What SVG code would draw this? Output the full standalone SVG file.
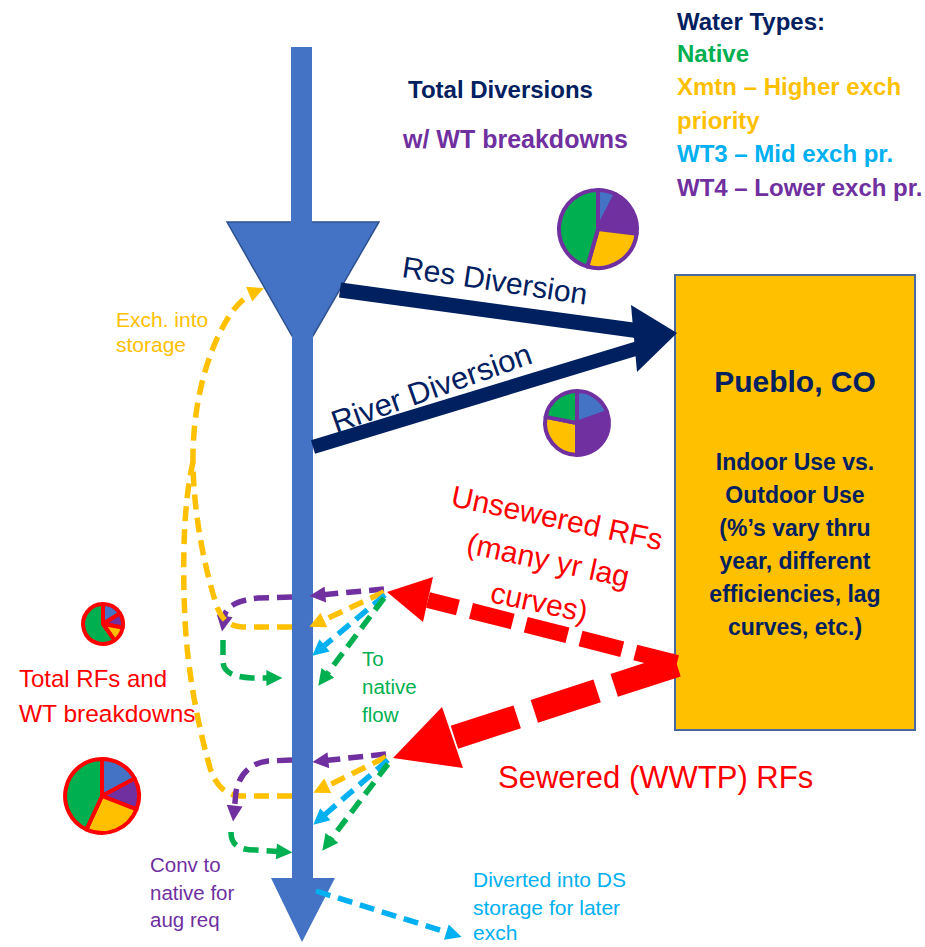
<svg xmlns="http://www.w3.org/2000/svg" width="925" height="947" viewBox="0 0 925 947">
<style>
text{font-family:"Liberation Sans",Arial,sans-serif}
.b{font-weight:bold}
.navy{fill:#002060}.grn{fill:#00B050}.yel{fill:#FFC000}.cyn{fill:#00B0F0}.pur{fill:#7030A0}.red{fill:#FF0000}
.river{fill:#4472C4}
.dash{fill:none;stroke-width:5.5;stroke-dasharray:15 8}
.sp{stroke:#7030A0}.sy{stroke:#FFC000}.sc{stroke:#00B0F0}.sg{stroke:#00B050}
.pieP{stroke:#7030A0;stroke-width:4;stroke-linejoin:round}
.pieR{stroke:#FF0000;stroke-width:4;stroke-linejoin:round}
.fB{fill:#4472C4}.fP{fill:#7030A0}.fY{fill:#FFC000}.fG{fill:#00B050}
</style>
<defs>
<marker id="mP" viewBox="0 0 10 10" refX="6" refY="5" markerUnits="userSpaceOnUse" markerWidth="18" markerHeight="16" orient="auto"><path d="M0,0 L10,5 L0,10 z" fill="#7030A0"/></marker>
<marker id="mY" viewBox="0 0 10 10" refX="6" refY="5" markerUnits="userSpaceOnUse" markerWidth="18" markerHeight="16" orient="auto"><path d="M0,0 L10,5 L0,10 z" fill="#FFC000"/></marker>
<marker id="mC" viewBox="0 0 10 10" refX="6" refY="5" markerUnits="userSpaceOnUse" markerWidth="18" markerHeight="16" orient="auto"><path d="M0,0 L10,5 L0,10 z" fill="#00B0F0"/></marker>
<marker id="mG" viewBox="0 0 10 10" refX="6" refY="5" markerUnits="userSpaceOnUse" markerWidth="18" markerHeight="16" orient="auto"><path d="M0,0 L10,5 L0,10 z" fill="#00B050"/></marker>
</defs>

<g id="river">
<polygon points="227,222 379,222 313,336 292,336" class="river" stroke="#2F528F" stroke-width="1.5"/>
<rect x="291" y="47" width="21" height="177" class="river"/>
<rect x="292" y="334" width="21" height="546" class="river"/>
<polygon points="271,878 335,878 302,942" class="river"/>
</g>

<g id="legend">
<text x="677" y="30" class="b navy" font-size="24">Water Types:</text>
<text x="677" y="62" class="b grn" font-size="24">Native</text>
<text x="677" y="95" class="b yel" font-size="24">Xmtn – Higher exch</text>
<text x="677" y="129" class="b yel" font-size="24">priority</text>
<text x="677" y="162" class="b cyn" font-size="24">WT3 – Mid exch pr.</text>
<text x="677" y="196" class="b pur" font-size="24">WT4 – Lower exch pr.</text>
</g>

<g id="total-diversions">
<text x="408" y="98" class="b navy" font-size="24">Total Diversions</text>
<text x="403" y="148" class="b pur" font-size="25">w/ WT breakdowns</text>
</g>

<g id="pueblo">
<rect x="675" y="275" width="240" height="455" fill="#FFC000" stroke="#4A6A9E" stroke-width="2"/>
<text x="795" y="392" class="b navy" font-size="30" text-anchor="middle">Pueblo, CO</text>
<g class="b navy" font-size="23" text-anchor="middle">
<text x="795" y="470">Indoor Use vs.</text>
<text x="795" y="503">Outdoor Use</text>
<text x="795" y="536">(%’s vary thru</text>
<text x="795" y="569">year, different</text>
<text x="795" y="602">efficiencies, lag</text>
<text x="795" y="635">curves, etc.)</text>
</g>
</g>

<g id="pie-res">
<path class="pieP fB" d="M598,229 L598,190 A39,39 0 0 1 615.7,194.3 Z"/>
<path class="pieP fP" d="M598,229 L615.7,194.3 A39,39 0 0 1 636.7,233.8 Z"/>
<path class="pieP fY" d="M598,229 L636.7,233.8 A39,39 0 0 1 587.3,266.5 Z"/>
<path class="pieP fG" d="M598,229 L587.3,266.5 A39,39 0 0 1 598,190 Z"/>
</g>
<g id="pie-river">
<path class="pieP fB" d="M577,423 L577,391 A32,32 0 0 1 607.1,412.1 Z"/>
<path class="pieP fP" d="M577,423 L607.1,412.1 A32,32 0 0 1 577,455 Z"/>
<path class="pieP fY" d="M577,423 L577,455 A32,32 0 0 1 545.6,416.9 Z"/>
<path class="pieP fG" d="M577,423 L545.6,416.9 A32,32 0 0 1 577,391 Z"/>
</g>
<g id="pie-rf-small">
<path class="pieR fB" stroke-width="3" d="M103,624 L103,604 A20,20 0 0 1 120,613.4 Z"/>
<path class="pieR fP" stroke-width="3" d="M103,624 L120,613.4 A20,20 0 0 1 122.7,627.5 Z"/>
<path class="pieR fY" stroke-width="3" d="M103,624 L122.7,627.5 A20,20 0 0 1 114.5,640.4 Z"/>
<path class="pieR fG" stroke-width="3" d="M103,624 L114.5,640.4 A20,20 0 1 1 103,604 Z"/>
</g>
<g id="pie-rf-large">
<path class="pieR fB" d="M102,796 L102,759 A37,37 0 0 1 134.7,778.6 Z"/>
<path class="pieR fP" d="M102,796 L134.7,778.6 A37,37 0 0 1 136.5,809.3 Z"/>
<path class="pieR fY" d="M102,796 L136.5,809.3 A37,37 0 0 1 86.4,829.5 Z"/>
<path class="pieR fG" d="M102,796 L86.4,829.5 A37,37 0 0 1 102,759 Z"/>
</g>

<g id="labels">
<text class="navy" font-size="30" transform="translate(401,277) rotate(8.5)">Res Diversion</text>
<text class="navy" font-size="31" transform="translate(336,433) rotate(-19.5)">River Diversion</text>
<g class="red" font-size="30" text-anchor="middle" transform="translate(555,528) rotate(12)">
<text x="0" y="0">Unsewered RFs</text>
<text x="0" y="43">(many yr lag</text>
<text x="0" y="86">curves)</text>
</g>
<text x="498" y="788" class="red" font-size="31">Sewered (WWTP) RFs</text>
<text x="19" y="687" class="red" font-size="24">Total RFs and</text>
<text x="19" y="722" class="red" font-size="24.5">WT breakdowns</text>
<text x="116" y="327" class="yel" font-size="21">Exch. into</text>
<text x="116" y="352" class="yel" font-size="21">storage</text>
<text x="362" y="666" class="grn" font-size="20.5">To</text>
<text x="362" y="694" class="grn" font-size="20.5">native</text>
<text x="362" y="722" class="grn" font-size="20.5">flow</text>
<text x="150" y="872" class="pur" font-size="20.5">Conv to</text>
<text x="150" y="900" class="pur" font-size="20.5">native for</text>
<text x="150" y="927" class="pur" font-size="20.5">aug req</text>
<text x="473" y="887" class="cyn" font-size="21">Diverted into DS</text>
<text x="473" y="915" class="cyn" font-size="21">storage for later</text>
<text x="473" y="940" class="cyn" font-size="21">exch</text>
</g>

<g id="connectors">
<line x1="340" y1="290" x2="640" y2="331" stroke="#002060" stroke-width="15"/>
<line x1="313" y1="447" x2="645" y2="346" stroke="#002060" stroke-width="14"/>
<polygon points="631,305 677,333 637,372" fill="#002060"/>

<path class="dash sp" d="M384,589 L315.8,595.4" marker-end="url(#mP)"/>
<path class="dash sy" d="M384,592 L315.2,624.1" marker-end="url(#mY)"/>
<path class="dash sc" d="M385,595 L317.2,651.6" marker-end="url(#mC)"/>
<path class="dash sg" d="M384,598 L322.1,680.6" marker-end="url(#mG)"/>
<path class="dash sp" d="M292,597 L258,598 C240,600 228,605 225,614 L223.1,625.3" marker-end="url(#mP)"/>
<path class="dash sg" d="M223,640 L223,662 C224,674 236,677 252,678 L276,678" marker-end="url(#mG)"/>
<path class="dash sy" d="M292,627 L243,627 C228,627 221,618 216,604 C204,565 194,515 193,465 C192,410 205,355 228,318 C236,305 245,296 258,290.5" marker-end="url(#mY)"/>
<path class="dash sy" d="M292,796 L242,796 C226,796 216,786 210,768 C198,725 188,675 185,620 C182,560 184,500 193,462"/>

<path class="dash sp" d="M386,754 L318.8,761.3" marker-end="url(#mP)"/>
<path class="dash sy" d="M386,757 L319.1,790" marker-end="url(#mY)"/>
<path class="dash sc" d="M388,760 L318.1,820.5" marker-end="url(#mC)"/>
<path class="dash sg" d="M388,764 L326.1,845.6" marker-end="url(#mG)"/>
<path class="dash sp" d="M292,760 L268,761 C250,763 239,775 236,792 L233.7,815.2" marker-end="url(#mP)"/>
<path class="dash sg" d="M231,832 C231,846 240,850 256,850 L286,852" marker-end="url(#mG)"/>
<path class="dash sc" d="M316,891 L455.5,935" marker-end="url(#mC)"/>

<path d="M677,663 L428,600" fill="none" stroke="#FF0000" stroke-width="16" stroke-dasharray="43 13.5"/>
<polygon points="387,592 433,577 423,622" fill="#FF0000"/>
<path d="M677,665 L452,738" fill="none" stroke="#FF0000" stroke-width="24" stroke-dasharray="66 18"/>
<polygon points="393,758 442,707 463,768" fill="#FF0000"/>
</g>
</svg>
